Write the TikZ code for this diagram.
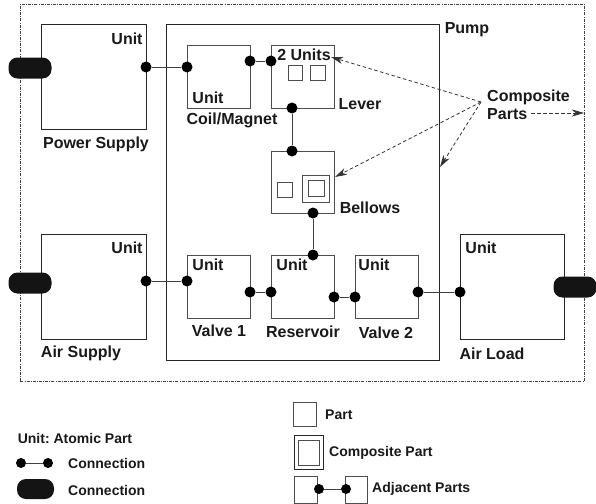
\documentclass[tikz,border=0pt]{standalone}
\usepackage{fontspec}
\setmainfont{Liberation Sans}
\frenchspacing
\usetikzlibrary{arrows.meta}
\begin{document}
\begin{tikzpicture}[x=1pt,y=-1pt,
  box/.style={draw=black!85, line width=1pt, rectangle, anchor=north west, inner sep=0pt},
  sbox/.style={draw=black!70, line width=0.8pt, rectangle, anchor=north west, inner sep=0pt},
  dot/.style={circle, fill=black, minimum size=11pt, inner sep=0pt},
  ldot/.style={circle, fill=black, minimum size=10pt, inner sep=0pt},
  conn/.style={draw=black!75, line width=1pt},
  pill/.style={rectangle, rounded corners=9pt, fill=black!92, minimum width=43pt, minimum height=21pt, inner sep=0pt},
  lbl/.style={font=\fontsize{16}{17.5}\selectfont\bfseries, text=black!90, inner sep=0pt},
  leg/.style={font=\fontsize{14}{16}\selectfont\bfseries, text=black!90, inner sep=0pt},
  darr/.style={draw=black!80, line width=0.8pt, dash pattern=on 3.5pt off 2.5pt, -{Stealth[length=12pt,width=7pt,inset=3.5pt]}}
]
\useasboundingbox (0,0) rectangle (596,503);
% outer border
\node[draw=black!75, line width=0.7pt, dash pattern=on 3pt off 1.2pt on 0.8pt off 1.2pt, rectangle, anchor=north west, inner sep=0pt, minimum width=564pt, minimum height=377pt] (sys) at (20,4) {};
% main boxes
\node[box, minimum width=105pt, minimum height=105pt] (ps) at (41,24) {};
\node[box, minimum width=105pt, minimum height=105pt] (as) at (41,234) {};
\node[box, minimum width=104pt, minimum height=105pt] (al) at (460,234) {};
\node[box, minimum width=273pt, minimum height=336pt] (pump) at (166,24) {};
% inner boxes
\node[sbox, minimum width=63pt, minimum height=63pt] (coil) at (187,45) {};
\node[sbox, minimum width=63pt, minimum height=63pt] (lever) at (271,45) {};
\node[sbox, minimum width=63pt, minimum height=62pt] (bell) at (271,151) {};
\node[sbox, minimum width=63pt, minimum height=63pt] (v1) at (187,255) {};
\node[sbox, minimum width=63pt, minimum height=63pt] (res) at (271,255) {};
\node[sbox, minimum width=63pt, minimum height=63pt] (v2) at (355,255) {};
% sub parts
\node[sbox, minimum width=14pt, minimum height=15pt] (lq1) at (288,65) {};
\node[sbox, minimum width=15pt, minimum height=15pt] (lq2) at (310,65) {};
\node[sbox, minimum width=15pt, minimum height=15pt] (bq1) at (277,182) {};
\node[sbox, minimum width=27pt, minimum height=27pt] (bq2) at (302,175) {};
\node[sbox, minimum width=16pt, minimum height=16pt] (bq3) at (308,180) {};
% dots
\node[dot] (psd) at (146,67) {};
\node[dot] (cmin) at (187,67) {};
\node[dot] (cmout) at (250,61) {};
\node[dot] (lvin) at (271,61) {};
\node[dot] (lvb) at (292,108) {};
\node[dot] (blt) at (292,151) {};
\node[dot] (blb) at (313,213) {};
\node[dot] (rst) at (313,255) {};
\node[dot] (asd) at (146,281) {};
\node[dot] (v1in) at (187,281) {};
\node[dot] (v1out) at (250,292) {};
\node[dot] (rsin) at (271,292) {};
\node[dot] (rsout) at (334,297) {};
\node[dot] (v2in) at (355,297) {};
\node[dot] (v2out) at (418,292) {};
\node[dot] (ald) at (460,292) {};
% connections
\draw[conn] (psd) -- (cmin);
\draw[conn] (cmout) -- (lvin);
\draw[conn] (lvb) -- (blt);
\draw[conn] (blb) -- (rst);
\draw[conn] (asd) -- (v1in);
\draw[conn] (v1out) -- (rsin);
\draw[conn] (rsout) -- (v2in);
\draw[conn] (v2out) -- (ald);
% pills
\node[pill] (pp) at (30,68) {};
\node[pill] (pa) at (30,283) {};
\node[pill] (pl) at (575,287) {};
% labels
\node[lbl] (u1) at (127,39) {Unit};
\node[lbl] (t1) at (96,144) {Power Supply};
\node[lbl] (u2) at (208,98) {Unit};
\node[lbl] (t2) at (232,120) {Coil/Magnet};
\node[lbl] (u3) at (304,55) {2 Units};
\node[lbl] (t3) at (360,104) {Lever};
\node[lbl] (t4) at (370,208) {Bellows};
\node[lbl] (t5) at (467,30) {Pump};
\node[lbl, align=left, anchor=west] (cp) at (487,105) {Composite\\[0pt]Parts};
\node[lbl] (u4) at (127,248) {Unit};
\node[lbl] (t6) at (81,353) {Air Supply};
\node[lbl] (u5) at (208,265) {Unit};
\node[lbl] (t7) at (219,331) {Valve 1};
\node[lbl] (u6) at (292,265) {Unit};
\node[lbl] (t8) at (303,332) {Reservoir};
\node[lbl] (u7) at (374,265) {Unit};
\node[lbl] (t9) at (386,333) {Valve 2};
\node[lbl] (u8) at (481,248) {Unit};
\node[lbl] (t10) at (492,354) {Air Load};
% composite arrows
\coordinate (src) at (481,102);
\coordinate (a1) at (331,57);
\coordinate (a2) at (335,177);
\coordinate (a3) at (440,167);
\coordinate (a4s) at (531,113);
\coordinate (a4) at (584,113);
\draw[darr] (src) -- (a1);
\draw[darr] (src) -- (a2);
\draw[darr] (src) -- (a3);
\draw[darr] (a4s) -- (a4);
% legend
\node[leg] (l1) at (75,438) {Unit: Atomic Part};
\node[ldot] (ld1) at (21,463) {};
\node[ldot] (ld2) at (48,463) {};
\draw[conn] (ld1) -- (ld2);
\node[leg, anchor=west] (l2) at (68,463) {Connection};
\node[pill, minimum width=37pt, minimum height=20pt] (lp) at (35.5,489) {};
\node[leg, anchor=west] (l3) at (68,490) {Connection};
\node[sbox, minimum width=23pt, minimum height=24pt] (lpart) at (293,402) {};
\node[leg, anchor=west] (l4) at (325,415) {Part};
\node[box, minimum width=29pt, minimum height=34pt] (lcomp) at (294,435) {};
\node[sbox, minimum width=21pt, minimum height=25pt] (lcompi) at (298,440) {};
\node[leg, anchor=west] (l5) at (329,453) {Composite Part};
\node[sbox, minimum width=23pt, minimum height=27pt] (la1) at (294,476) {};
\node[sbox, minimum width=22pt, minimum height=27pt] (la2) at (345,476) {};
\node[ldot] (lad1) at (319,489) {};
\node[ldot] (lad2) at (346,489) {};
\draw[conn] (lad1) -- (lad2);
\node[leg, anchor=west] (l6) at (372,489) {Adjacent Parts};
\end{tikzpicture}
\end{document}
